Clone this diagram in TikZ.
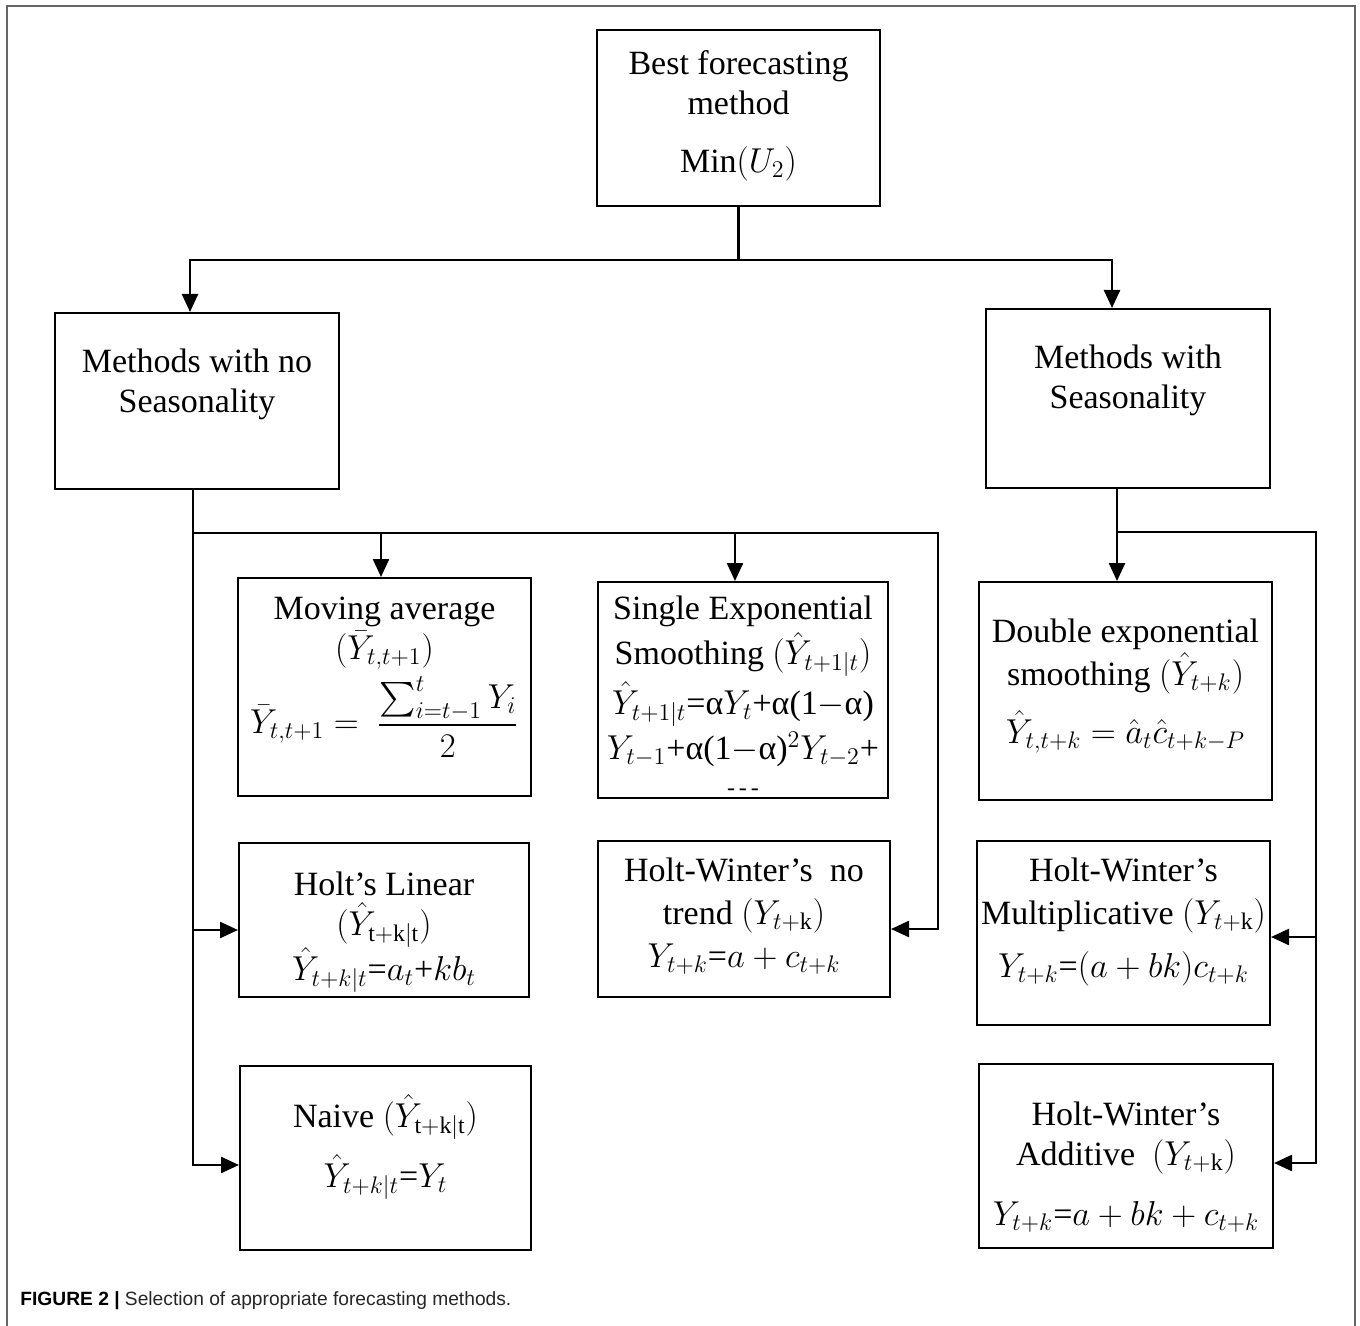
\documentclass[tikz,border=0pt]{standalone}
\usepackage{amsmath}
\usepackage{fontspec}
\setmainfont{Liberation Serif}
\newfontfamily\capfont{Liberation Sans}
\usetikzlibrary{arrows.meta}
\begin{document}
\begin{tikzpicture}[x=0.5pt,y=-0.5pt,
  box/.style={draw, line width=1pt, inner sep=0pt},
  txt/.style={align=center, inner sep=0pt, font=\fontsize{17}{20}\selectfont},
  conn/.style={line width=1.2pt},
  arr/.style={conn,-{Triangle[length=9pt,width=8pt]}}]
\useasboundingbox (0,0) rectangle (1360,1326);
\draw[gray!80!black, line width=1.2pt] (7,1326) -- (7,6) -- (1355,6) -- (1355,1326);

% boxes
\node[box, minimum width=141.5pt, minimum height=88pt] (top) at (738.5,118) {};
\node[box, minimum width=142pt, minimum height=88pt] (left) at (197,401) {};
\node[box, minimum width=142pt, minimum height=89.5pt] (right) at (1128,398.5) {};
\node[box, minimum width=146.5pt, minimum height=109pt] (ma) at (384.5,687) {};
\node[box, minimum width=145pt, minimum height=108pt] (ses) at (743,690) {};
\node[box, minimum width=146.5pt, minimum height=109pt] (dbl) at (1125.5,691) {};
\node[box, minimum width=145pt, minimum height=77pt] (holt) at (384,920) {};
\node[box, minimum width=146pt, minimum height=78pt] (hwnt) at (744,919) {};
\node[box, minimum width=146.5pt, minimum height=92pt] (hwm) at (1123.5,933) {};
\node[box, minimum width=145.5pt, minimum height=92pt] (naive) at (385.5,1158) {};
\node[box, minimum width=147pt, minimum height=92pt] (hwa) at (1126,1156) {};

% texts
\node[txt] (top-t) at (738.5,116) {Best forecasting\\method\\[9pt]Min$(U_2)$};
\node[txt] (left-t) at (197,384) {Methods with no\\Seasonality};
\node[txt] (right-t) at (1128,380) {Methods with\\Seasonality};
\node[txt] (ma-t) at (384.5,677)
  {Moving average\\$(\bar{Y}_{t,t+1})$\\[3pt]
   $\bar{Y}_{t,t+1} = \ \dfrac{\sum_{i=t-1}^{t} Y_i}{2}$};
\node[txt] (ses-t) at (743,696)
  {Single Exponential\\[1.5pt]Smoothing $(\hat{Y}_{t+1|t})$\\[1.5pt]
   $\hat{Y}_{t+1|t}$=α$Y_t$+α(1$-$α)\\[1.5pt]
   $Y_{t-1}$+α(1$-$α)$^2Y_{t-2}$+\\[-2pt]{\fontsize{12}{14}\selectfont -\,-\,-}};
\node[txt] (dbl-t) at (1125.5,686)
  {Double exponential\\[1.5pt]smoothing $(\hat{Y}_{t+k})$\\[7pt]
   $\hat{Y}_{t,t+k} = \hat{a}_t\hat{c}_{t+k-P}$};
\node[txt] (holt-t) at (384,932)
  {Holt’s Linear\\[0pt]$(\hat{Y}_{\mathrm{t+k|t}})$\\[-1pt]$\hat{Y}_{t+k|t}$=$a_t$+$kb_t$};
\node[txt] (hwnt-t) at (744,916)
  {Holt-Winter’s~ no\\[1.5pt]trend $(Y_{t+\mathrm{k}})$\\[1.5pt]$Y_{t+k}$=$a+c_{t+k}$};
\node[txt] (hwm-t) at (1123.5,922)
  {Holt-Winter’s\\[1.5pt]Multiplicative $(Y_{t+\mathrm{k}})$\\[6.5pt]$Y_{t+k}$=$(a+bk)c_{t+k}$};
\node[txt] (naive-t) at (385.5,1147)
  {Naive $(\hat{Y}_{\mathrm{t+k|t}})$\\[6.5pt]$\hat{Y}_{t+k|t}$=$Y_t$};
\node[txt] (hwa-t) at (1126,1167)
  {Holt-Winter’s\\Additive~ $(Y_{t+\mathrm{k}})$\\[10pt]$Y_{t+k}$=$a+bk+c_{t+k}$};

% connectors from the top
\coordinate (j0) at (738.5,260);
\draw[conn] (top.south) -- (j0);
\draw[arr] (j0) -| ([xshift=-3.5pt]left.north);
\draw[arr] (j0) -| ([xshift=-8pt]right.north);

% left trunk
\coordinate (bus1) at (193,533);
\coordinate (bus2) at (938,533);
\draw[arr] ([xshift=-2pt]left.south) |- ([yshift=-3.5pt]naive.west);
\draw[arr] ([xshift=-2pt]left.south) |- ([yshift=-5pt]holt.west);
\draw[arr] (bus1) -- (bus2) |- ([yshift=-5pt]hwnt.east);
\draw[arr] ([xshift=-1.75pt]ma.north |- bus1) -- ([xshift=-1.75pt]ma.north);
\draw[arr] ([xshift=-4pt]ses.north |- bus1) -- ([xshift=-4pt]ses.north);

% right trunk
\coordinate (rb1) at (1117,532);
\coordinate (rb2) at (1316,532);
\draw[arr] ([xshift=-5.5pt]right.south) -- ([xshift=-5.5pt]right.south |- dbl.north);
\draw[arr] (rb1) -- (rb2) |- ([yshift=-2pt]hwm.east);
\draw[arr] (rb2) |- ([yshift=-3.5pt]hwa.east);

% caption
\node[anchor=base west, inner sep=0pt, font=\capfont\fontsize{9.6}{11}\selectfont] (cap) at (20,1305)
  {\textbf{FIGURE 2 |} \textcolor{black!85}{Selection of appropriate forecasting methods.}};
\end{tikzpicture}
\end{document}
